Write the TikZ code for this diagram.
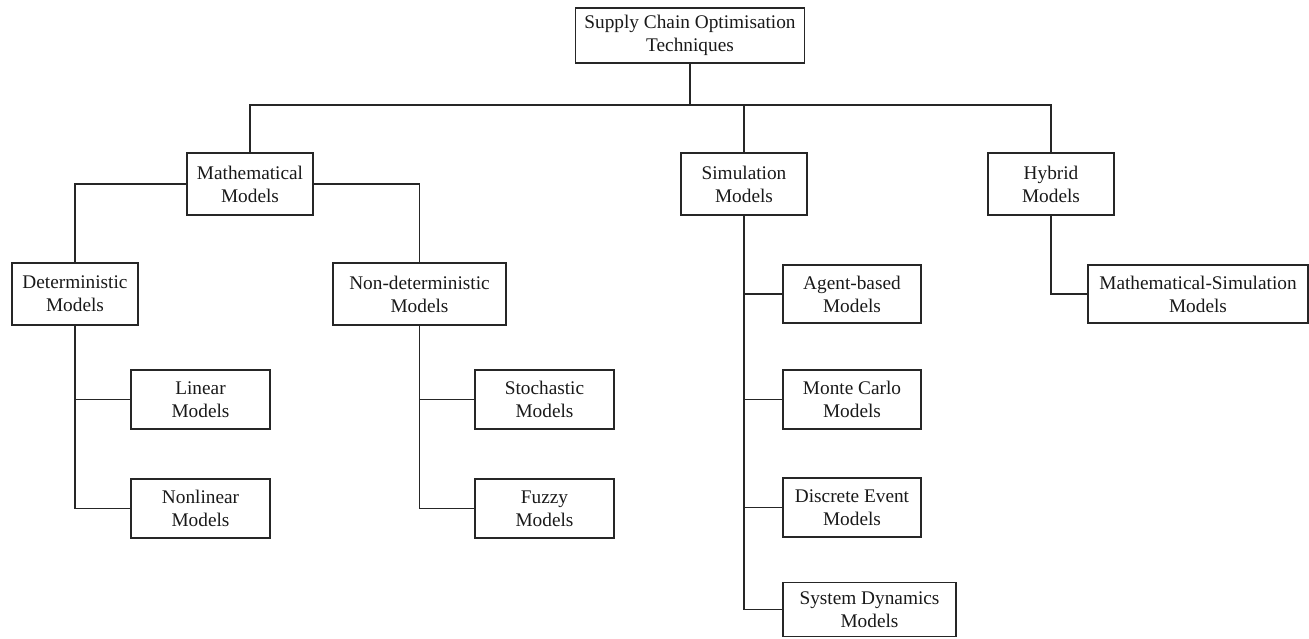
\documentclass[tikz,border=0pt]{standalone}
\usepackage{fontspec}
\setmainfont{Liberation Serif}
\begin{document}
\begin{tikzpicture}[x=1pt,y=-1pt,
  box/.style={draw=black!85, line width=1.3pt, inner sep=0pt, align=center,
    font=\fontsize{19.3}{23}\selectfont, text=black!90},
  conn/.style={draw=black!85, line width=1.3pt}]
\useasboundingbox (0,0) rectangle (1309,638);
% level 0
\node[box, minimum width=229, minimum height=55] (top) at (690,35.5) {Supply Chain Optimisation\\Techniques};
% level 1
\node[box, minimum width=126, minimum height=62] (math) at (250,184) {Mathematical\\Models};
\node[box, minimum width=126, minimum height=62] (sim) at (744,184) {Simulation\\Models};
\node[box, minimum width=126, minimum height=62] (hyb) at (1051,184) {Hybrid\\Models};
% level 2
\node[box, minimum width=126, minimum height=62] (det) at (75,294) {Deterministic\\Models};
\node[box, minimum width=173, minimum height=62] (nondet) at (419.5,294) {Non-deterministic\\Models};
\node[box, minimum width=138, minimum height=58] (agent) at (852,294) {Agent-based\\Models};
\node[box, minimum width=220, minimum height=58] (ms) at (1198,294) {Mathematical-Simulation\\Models};
% level 3
\node[box, minimum width=139, minimum height=59] (linear) at (200.5,399.5) {Linear\\Models};
\node[box, minimum width=139, minimum height=59] (nonlinear) at (200.5,508.5) {Nonlinear\\Models};
\node[box, minimum width=139, minimum height=59] (stoch) at (544.5,399.5) {Stochastic\\Models};
\node[box, minimum width=139, minimum height=59] (fuzzy) at (544.5,508.5) {Fuzzy\\Models};
\node[box, minimum width=138, minimum height=59] (monte) at (852,399.5) {Monte Carlo\\Models};
\node[box, minimum width=138, minimum height=59] (disc) at (852,507.5) {Discrete Event\\Models};
\node[box, minimum width=173, minimum height=54] (sysdyn) at (869.5,609.5) {System Dynamics\\Models};
% bus
\coordinate (bus) at (690,105);
\draw[conn] (top.south) -- (top.south |- bus);
\draw[conn] (math.north) -- (math.north |- bus) -- (hyb.north |- bus) -- (hyb.north);
\draw[conn] (sim.north) -- (sim.north |- bus);
% mathematical
\draw[conn] (math.west) -| (det.north);
\draw[conn] (math.east) -| (nondet.north);
\draw[conn] (det.south) |- (nonlinear.west);
\draw[conn] (linear.west) -- (linear.west -| det.south);
\draw[conn] (nondet.south) |- (fuzzy.west);
\draw[conn] (stoch.west) -- (stoch.west -| nondet.south);
% simulation
\draw[conn] (sim.south) |- (sysdyn.west);
\draw[conn] (agent.west) -- (agent.west -| sim.south);
\draw[conn] (monte.west) -- (monte.west -| sim.south);
\draw[conn] (disc.west) -- (disc.west -| sim.south);
% hybrid
\draw[conn] (hyb.south) |- (ms.west);
\end{tikzpicture}
\end{document}
